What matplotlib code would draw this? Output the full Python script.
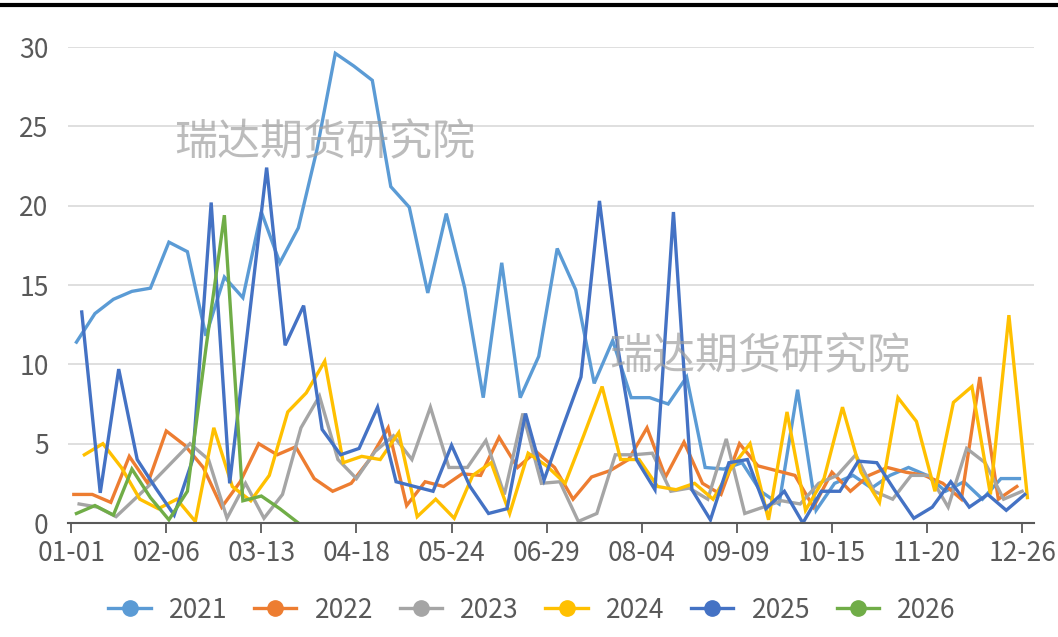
import numpy as np
import pandas as pd
import matplotlib
matplotlib.use("Agg")
from matplotlib import pyplot as plt
from matplotlib.lines import Line2D

plt.rcParams['font.family'] = ['Noto Sans CJK SC', 'DejaVu Sans']

# ******************
# Data (weekly values)
years = ['2021', '2022', '2023', '2024', '2025', '2026']
first_dates = ['2021-01-03', '2022-01-02', '2023-01-04', '2024-01-06', '2025-01-05', '2026-01-03']
colors = ['#5B9BD5', '#ED7D31', '#A5A5A5', '#FFC000', '#4472C4', '#70AD47']

v2021 = [11.4, 13.2, 14.1, 14.6, 14.8, 17.7, 17.1, 11.8, 15.5, 14.2, 19.6, 16.4, 18.6,
         23.5, 29.6, 28.8, 27.9, 21.2, 19.9, 14.5, 19.5, 14.8, 7.9, 16.4, 7.9, 10.5,
         17.3, 14.7, 8.8, 11.5, 7.9, 7.9, 7.5, 9.2, 3.5, 3.4, 3.8, 2.0, 1.2, 8.4,
         0.8, 2.5, 3.0, 2.2, 3.0, 3.5, 3.0, 2.0, 2.6, 1.5, 2.8, 2.8]
v2022 = [1.8, 1.8, 1.3, 4.2, 2.5, 5.8, 4.9, 3.5, 1.0, 2.6, 5.0, 4.3, 4.8, 2.8, 2.0,
         2.5, 4.0, 6.0, 1.1, 2.6, 2.3, 3.1, 3.0, 5.4, 3.5, 4.5, 3.5, 1.5, 2.9, 3.3,
         4.0, 6.0, 2.9, 5.1, 2.5, 1.8, 5.0, 3.6, 3.3, 3.0, 1.0, 3.2, 2.0, 3.0, 3.5,
         3.2, 3.0, 2.5, 1.5, 9.2, 1.5, 2.3]
v2023 = [1.2, 1.0, 0.4, 1.5, 2.6, 3.8, 5.0, 4.0, 0.3, 2.5, 0.3, 1.8, 6.0, 8.0, 4.0,
         2.8, 4.5, 5.5, 4.0, 7.3, 3.5, 3.5, 5.2, 1.8, 6.9, 2.5, 2.6, 0.1, 0.6, 4.3,
         4.3, 4.4, 2.0, 2.2, 1.5, 5.3, 0.6, 1.0, 1.4, 1.2, 2.5, 3.0, 4.3, 2.0, 1.5,
         3.0, 3.0, 1.0, 4.7, 3.8, 1.5, 2.0]
v2024 = [4.3, 5.0, 3.5, 1.5, 0.9, 1.5, 0.1, 6.0, 2.3, 1.4, 3.0, 7.0, 8.2, 10.2, 3.8,
         4.2, 4.0, 5.7, 0.4, 1.5, 0.3, 3.0, 3.8, 0.6, 4.4, 3.6, 2.5, 5.5, 8.6, 4.0,
         4.0, 2.3, 2.1, 2.5, 1.5, 3.5, 5.0, 0.2, 7.0, 0.8, 2.8, 7.3, 3.2, 1.3, 7.9,
         6.4, 2.0, 7.6, 8.6, 1.8, 13.1, 1.6]
v2025 = [13.3, 1.9, 9.7, 4.0, 2.2, 0.5, 4.0, 20.2, 2.5, 12.4, 22.4, 11.2, 13.7, 5.9,
         4.3, 4.7, 7.3, 2.6, 2.3, 2.0, 4.9, 2.3, 0.6, 0.9, 6.9, 2.7, 6.0, 9.2, 20.3,
         11.0, 4.0, 2.1, 19.6, 2.1, 0.2, 3.8, 4.0, 0.9, 2.0, 0.0, 2.0, 2.0, 3.9, 3.8,
         2.0, 0.3, 1.0, 2.6, 1.0, 1.8, 0.8, 1.8]
v2026 = [0.6, 1.1, 0.5, 3.4, 1.6, 0.2, 2.0, 11.0, 19.4, 1.4, 1.7, 0.9, 0.0]

values = [v2021, v2022, v2023, v2024, v2025, v2026]

# x axis: day of year on a common (leap) year, labels every 36 days
base = pd.Timestamp('2024-01-01')
tick_days = np.arange(0, 361, 36)
tick_labels = [(base + pd.Timedelta(days=int(d))).strftime('%m-%d') for d in tick_days]

# ******************
# Plot
W, H = 1058, 637
fig = plt.figure(figsize=(W / 100, H / 100), dpi=100)
ax = fig.add_axes([68 / W, (H - 523) / H, (1034 - 68) / W, (523 - 47) / H])

for yr, d0, vals, c in zip(years, first_dates, values, colors):
    start = pd.Timestamp(d0)
    days = (start - pd.Timestamp(start.year, 1, 1)).days + 7 * np.arange(len(vals))
    ax.plot(days, vals, color=c, linewidth=2.4, label=yr, solid_joinstyle='miter')

ax.set_xlim(-1.2, 364.5)
ax.set_ylim(0, 30)
ax.set_yticks([0, 5, 10, 15, 20, 25, 30])
ax.set_xticks(tick_days)
ax.set_xticklabels(tick_labels)
ax.grid(axis='y', color='#d9d9d9', linewidth=1.2)
ax.set_axisbelow(True)
for s in ['top', 'right', 'left']:
    ax.spines[s].set_visible(False)
ax.spines['bottom'].set_color('#595959')
ax.spines['bottom'].set_linewidth(1.5)
ax.tick_params(axis='y', length=0, pad=14, labelsize=19, labelcolor='#595959')
ax.tick_params(axis='x', length=7, width=1.3, color='#595959', pad=5,
               labelsize=19, labelcolor='#595959')

# watermarks
for (wx, wy) in [(325, 143), (760, 357)]:
    fig.text(wx / W, 1 - wy / H, '瑞达期货研究院', fontsize=31, color='#a0a0a0',
             alpha=0.7, ha='center', va='center')

# top black border line
fig.add_artist(Line2D([0, 1], [1 - 4.5 / H, 1 - 4.5 / H], color='black', linewidth=3))

handles = [Line2D([0], [0], color=c, linewidth=2.4, marker='o', markersize=11) for c in colors]
fig.legend(handles, years, loc='center', bbox_to_anchor=(0.503, 1 - 610 / H), ncol=6,
           frameon=False, fontsize=19, handlelength=1.6, columnspacing=1.0,
           handletextpad=0.7, labelcolor='#595959')

fig.savefig('out.png', dpi=100)
